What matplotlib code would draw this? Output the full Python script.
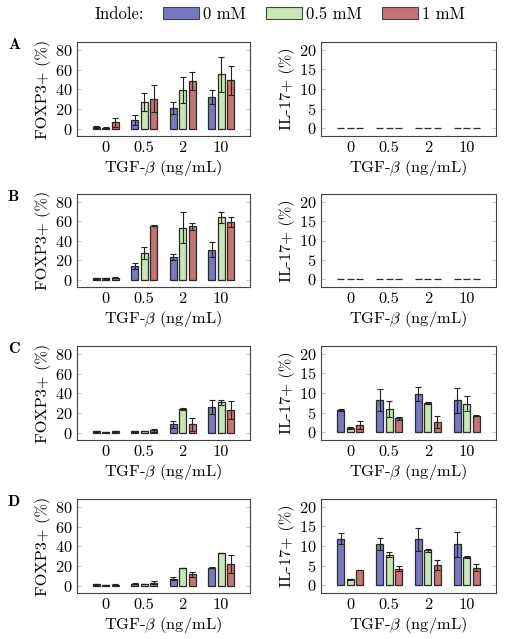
import numpy as np
import matplotlib
matplotlib.use("Agg")
import matplotlib.pyplot as plt
from matplotlib.patches import Patch

plt.rcParams['font.family'] = ['cmr10']
plt.rcParams['mathtext.fontset'] = 'cm'
plt.rcParams['axes.formatter.use_mathtext'] = True

categories = ["0", "0.5", "2", "10"]
series_names = ["0 mM", "0.5 mM", "1 mM"]
colors = ["#7878bf", "#c8e6b6", "#c47474"]

# FOXP3+ (%) means and errors, per panel: [0 mM, 0.5 mM, 1 mM] x categories
foxp3_A = [[1.5, 8.5, 21, 32], [1.0, 27, 39.5, 55], [6.5, 30.5, 48.5, 49]]
foxp3_A_err = [[0.8, 5, 6.5, 7], [0.5, 9, 13, 18], [4.5, 14, 9.5, 14.5]]
foxp3_B = [[1.4, 14, 23, 31], [1.4, 27.5, 53.5, 64], [2.0, 55.5, 55, 59]]
foxp3_B_err = [[0.3, 3, 3, 8], [0.3, 6, 16, 6], [0.5, 0.8, 3.5, 5]]
foxp3_C = [[1.2, 1.2, 8.5, 26], [0.8, 1.8, 24, 31], [1.6, 2.2, 8.5, 23]]
foxp3_C_err = [[0.3, 0.3, 3.5, 7], [0.2, 0.3, 1, 2.5], [0.5, 1.2, 6.5, 9.5]]
foxp3_D = [[1.2, 1.7, 7.2, 18.2], [0.8, 1.5, 17.9, 33], [1.0, 2.8, 11.3, 22]]
foxp3_D_err = [[0.2, 0.5, 1.3, 0.3], [0.2, 0.3, 0.5, 0.3], [0.2, 1.5, 2.4, 9.6]]

# IL-17+ (%)
il17_A = [[0, 0, 0, 0], [0, 0, 0, 0], [0, 0, 0, 0]]
il17_A_err = [[0, 0, 0, 0], [0, 0, 0, 0], [0, 0, 0, 0]]
il17_B = [[0, 0, 0, 0], [0, 0, 0, 0], [0, 0, 0, 0]]
il17_B_err = [[0, 0, 0, 0], [0, 0, 0, 0], [0, 0, 0, 0]]
il17_C = [[5.6, 8.2, 9.7, 8.1], [1.0, 5.9, 7.4, 7.3], [1.8, 3.5, 2.6, 4.2]]
il17_C_err = [[0.3, 2.7, 1.8, 3.1], [0.2, 2.0, 0.3, 2.0], [1.0, 0.4, 1.6, 0.2]]
il17_D = [[11.9, 10.55, 11.7, 10.4], [1.45, 7.8, 8.9, 7.15], [3.75, 4.25, 5.2, 4.5]]
il17_D_err = [[1.3, 1.6, 2.9, 3.3], [0.2, 0.7, 0.45, 0.3], [0.0, 0.6, 1.35, 0.9]]

panel_labels = ["A", "B", "C", "D"]
left_data = [(foxp3_A, foxp3_A_err), (foxp3_B, foxp3_B_err), (foxp3_C, foxp3_C_err), (foxp3_D, foxp3_D_err)]
right_data = [(il17_A, il17_A_err), (il17_B, il17_B_err), (il17_C, il17_C_err), (il17_D, il17_D_err)]

W, H = 505, 639
fig = plt.figure(figsize=(W / 100, H / 100), dpi=100)

rows_px = [(42, 136), (194, 287), (346, 440), (499, 593)]
left_px = (77, 250)
right_px = (321, 496)

x = np.arange(len(categories))
offsets = [-0.245, 0, 0.245]
bw = 0.18
FS = 11.8


def draw(ax, vals, errs, ylim, yticks, ylabel):
    for k in range(3):
        ax.bar(x + offsets[k], vals[k], bw, color=colors[k], edgecolor="#2a2a2a",
               linewidth=0.9, zorder=2)
        e = np.array(errs[k])
        m = e > 0
        if m.any():
            ax.errorbar((x + offsets[k])[m], np.array(vals[k])[m], yerr=e[m], fmt="none",
                        ecolor="#222222", elinewidth=0.8, capsize=2.0, capthick=0.8, zorder=3)
    ax.set_xlim(-0.75, 3.75)
    ax.set_ylim(*ylim)
    ax.set_yticks(yticks)
    ax.set_xticks(x)
    ax.set_xticklabels(categories)
    ax.tick_params(axis="both", labelsize=FS, direction="in", length=3, width=0.5,
                   color="#aaaaaa", right=True, pad=3)
    ax.tick_params(axis="x", length=0, pad=4)
    for s in ax.spines.values():
        s.set_color("#444444")
        s.set_linewidth(0.8)
    ax.set_ylabel(ylabel, fontsize=FS, labelpad=3)
    ax.set_xlabel(r"TGF-$\beta$ (ng/mL)", fontsize=FS, labelpad=2)


for i, (top, bot) in enumerate(rows_px):
    b = 1 - bot / H
    h = (bot - top) / H
    axl = fig.add_axes([left_px[0] / W, b, (left_px[1] - left_px[0]) / W, h])
    draw(axl, left_data[i][0], left_data[i][1], (-7.5, 88), [0, 20, 40, 60, 80], "FOXP3+ (%)")
    axr = fig.add_axes([right_px[0] / W, b, (right_px[1] - right_px[0]) / W, h])
    draw(axr, right_data[i][0], right_data[i][1], (-2, 22), [0, 5, 10, 15, 20], "IL-17+ (%)")
    fig.text(8 / W, 1 - (top + 7) / H, panel_labels[i], fontsize=11.5, family="cmb10",
             ha="left", va="baseline")

fig.text(95 / W, 1 - 14.5 / H, "Indole:", fontsize=12, ha="left", va="center")
handles = [Patch(facecolor=c, edgecolor="#444444", linewidth=0.8) for c in colors]
fig.legend(handles, series_names, loc="center left", bbox_to_anchor=(163 / W, 1 - 14.5 / H),
           ncol=3, frameon=False, fontsize=12, handlelength=2.15, handleheight=0.72,
           handletextpad=0.25, columnspacing=1.2, borderpad=0, borderaxespad=0)

fig.savefig("out.png", dpi=100)
